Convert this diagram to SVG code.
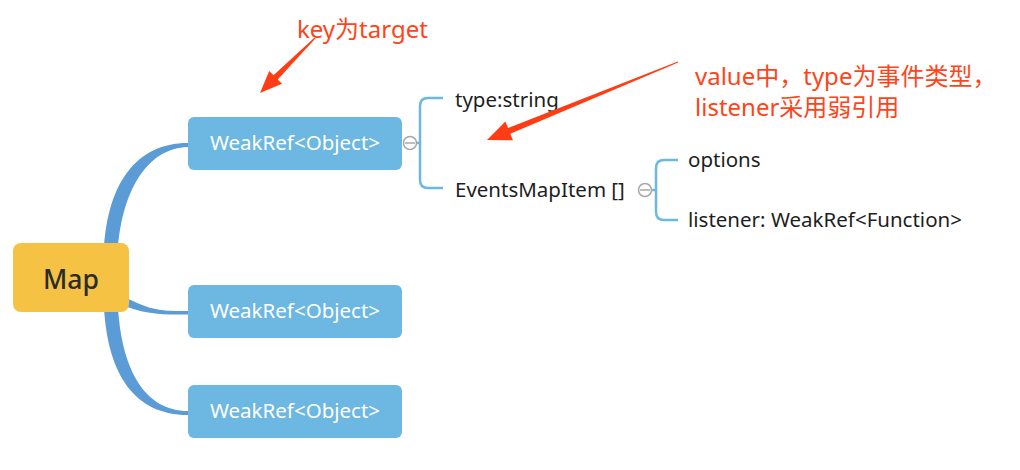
<svg xmlns="http://www.w3.org/2000/svg" width="1020" height="470" viewBox="0 0 1020 470">
<style>
.branch{fill:#5B9BD6;stroke:none}
.box{fill:#6CB8E2}
.wtxt{font-family:"Noto Sans","Liberation Sans",sans-serif;font-size:20.5px;fill:#FFFFFF;text-anchor:middle}
.dtxt{font-family:"Noto Sans","Liberation Sans",sans-serif;font-size:20.5px;fill:#1E1E1E}
.brk{fill:none;stroke:#6CB8E2;stroke-width:2.5}
.col{fill:#FFFFFF;stroke:#A8A8A8;stroke-width:1.5}
.rtxt{font-family:"Noto Sans","Noto Sans CJK SC",sans-serif;font-size:24px;fill:#FF4419}
.rarrow{fill:#FF3D14}
</style>
<rect width="1020" height="470" fill="#FFFFFF"/>
<g id="connectors">
<path class="branch" d="M104,248 C108,185 135,143 188,143 L188,147 C145,148 122,195 118,248 Z"/>
<path class="branch" d="M120,294 C150,312 165,311 188,311 L188,314.5 C162,315 142,314 120,304 Z"/>
<path class="branch" d="M104,308 C108,375 135,415 188,415 L188,411 C145,411 122,370 118,308 Z"/>
<line x1="416.5" y1="143" x2="420" y2="143" class="brk"/>
<path class="brk" d="M443,98 H428 Q420,98 420,106 V180 Q420,188 428,188 H443"/>
<line x1="651.5" y1="190" x2="656" y2="190" class="brk"/>
<path class="brk" d="M678,160 H664 Q656,160 656,168 V212 Q656,220 664,220 H678"/>
</g>
<g id="node-map">
<rect x="13" y="243" width="116" height="69" rx="8" fill="#F5C244"/>
<text x="71" y="289" font-family="Noto Sans, Liberation Sans, sans-serif" font-size="26.5" font-weight="500" fill="#2B2B2B" text-anchor="middle">Map</text>
</g>
<g id="node-weakref1">
<rect class="box" x="188" y="117" width="214" height="53" rx="6"/>
<text class="wtxt" x="295" y="150">WeakRef&lt;Object&gt;</text>
</g>
<g id="node-weakref2">
<rect class="box" x="188" y="285" width="214" height="53" rx="6"/>
<text class="wtxt" x="295" y="318">WeakRef&lt;Object&gt;</text>
</g>
<g id="node-weakref3">
<rect class="box" x="188" y="385" width="214" height="53" rx="6"/>
<text class="wtxt" x="295" y="418">WeakRef&lt;Object&gt;</text>
</g>
<g id="collapse1">
<circle class="col" cx="410" cy="143" r="6.5"/>
<line x1="405" y1="143" x2="415" y2="143" stroke="#A8A8A8" stroke-width="1.5"/>
</g>
<g id="node-type">
<text class="dtxt" x="455" y="107">type:string</text>
</g>
<g id="node-events">
<text class="dtxt" x="455" y="197">EventsMapItem []</text>
</g>
<g id="collapse2">
<circle class="col" cx="645" cy="190" r="6.5"/>
<line x1="640" y1="190" x2="650" y2="190" stroke="#A8A8A8" stroke-width="1.5"/>
</g>
<g id="node-options">
<text class="dtxt" x="688" y="167">options</text>
</g>
<g id="node-listener">
<text class="dtxt" x="688" y="227">listener: WeakRef&lt;Function&gt;</text>
</g>
<g id="annotations">
<text class="rtxt" x="297" y="38">key为target</text>
<polygon class="rarrow" points="315.4,38.4 277.7,79.5 282.0,83.8 260,93 269.2,71.0 273.5,75.3 314.6,37.6"/>
<text class="rtxt" x="695" y="85">value中，type为事件类型，</text>
<text class="rtxt" x="695" y="116">listener采用弱引用</text>
<polygon class="rarrow" points="678.2,62.6 510.3,133.7 513.0,140.2 487,140 505.4,121.6 508.1,128.1 677.8,61.4"/>
</g>
</svg>
